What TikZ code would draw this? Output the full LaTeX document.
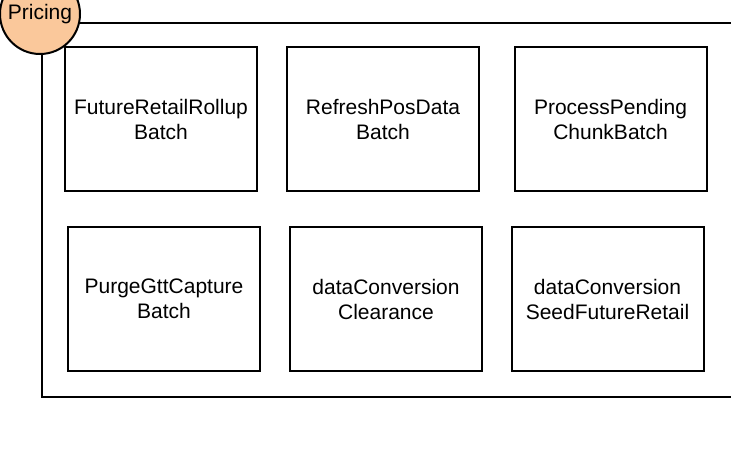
\documentclass[tikz,border=0pt]{standalone}
\usepackage{fontspec}
\setmainfont{Liberation Sans}
\usepackage{xcolor}
\usepackage{tikz}

\definecolor{badgeFill}{RGB}{250,200,155}

\begin{document}
\begin{tikzpicture}
      [ x=1pt, y=-1pt
      , job/.style={draw, line width=2pt, minimum width=192pt, minimum height=144pt, inner sep=0pt, align=center, font=\fontsize{21}{25}\selectfont}
      , lane/.style={draw, line width=2pt}
      , badge/.style={circle, draw, line width=2pt, fill=badgeFill, minimum size=80pt, inner sep=0pt, font=\fontsize{21}{25}\selectfont}
      ]
    \useasboundingbox (0,0) rectangle (731,458);
    \clip (0,0) rectangle (731,458);

    \draw[lane] (42,23) rectangle (760,397);
    \node[badge] (P) at (40,14) {Pricing};

    \node[job] (FRR) at (161,119) {FutureRetailRollup\\Batch};
    \node[job] (RPD) at (383,119) {RefreshPosData\\Batch};
    \node[job] (PPC) at (610.5,119) {ProcessPending\\ChunkBatch};

    \node[job] (PGC) at (164,299) {PurgeGttCapture\\Batch};
    \node[job] (DCC) at (386,299) {dataConversion\\Clearance};
    \node[job] (DCS) at (607.5,299) {dataConversion\\SeedFutureRetail};
    \end{tikzpicture}
\end{document}
